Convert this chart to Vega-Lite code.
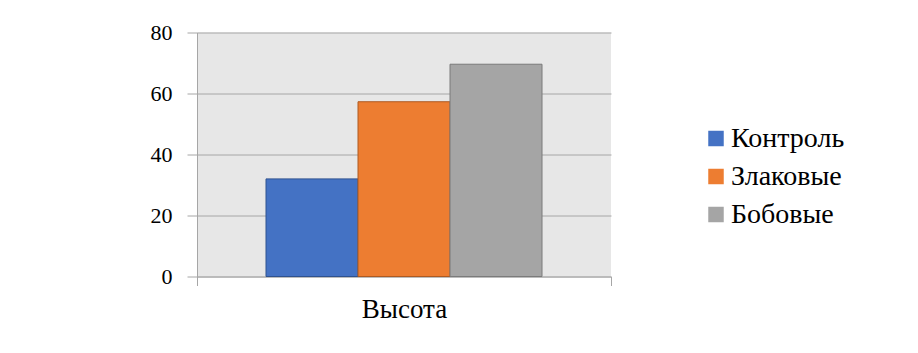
{
  "$schema": "https://vega.github.io/schema/vega-lite/v6.json",
  "width": 414,
  "height": 244,
  "autosize": {"type": "none"},
  "padding": {"left": 197, "top": 32.5, "right": 307, "bottom": 76.5},
  "background": "white",
  "data": {
    "values": [
      {"category": "Высота", "series": "Контроль", "value": 32},
      {"category": "Высота", "series": "Злаковые", "value": 57.3},
      {"category": "Высота", "series": "Бобовые", "value": 69.6}
    ]
  },
  "mark": {"type": "bar", "strokeWidth": 1},
  "encoding": {
    "x": {
      "field": "category",
      "type": "nominal",
      "scale": {"paddingInner": 0, "paddingOuter": 0},
      "axis": {
        "title": null,
        "labelAngle": 0,
        "tickBand": "extent",
        "tickSize": 9,
        "labelPadding": 11,
        "labelFont": "Liberation Serif",
        "labelFontSize": 27,
        "labelColor": "#000000",
        "domainColor": "#a6a6a6",
        "tickColor": "#a6a6a6"
      }
    },
    "xOffset": {
      "field": "series",
      "type": "nominal",
      "sort": ["Контроль", "Злаковые", "Бобовые"],
      "scale": {"paddingInner": 0, "paddingOuter": 0.75}
    },
    "y": {
      "field": "value",
      "type": "quantitative",
      "scale": {"domain": [0, 80]},
      "axis": {
        "title": null,
        "values": [0, 20, 40, 60, 80],
        "tickSize": 10,
        "labelPadding": 15,
        "labelFont": "Liberation Serif",
        "labelFontSize": 22,
        "labelColor": "#000000",
        "domainColor": "#a6a6a6",
        "tickColor": "#a6a6a6",
        "gridColor": "#a6a6a6",
        "gridOpacity": 1
      }
    },
    "color": {
      "field": "series",
      "type": "nominal",
      "sort": ["Контроль", "Злаковые", "Бобовые"],
      "scale": {"range": ["#4472C4", "#ED7D31", "#A5A5A5"]},
      "legend": {
        "title": null,
        "orient": "none",
        "legendX": 505,
        "legendY": 92,
        "symbolType": "square",
        "symbolSize": 240,
        "symbolStrokeWidth": 1,
        "labelFont": "Liberation Serif",
        "labelFontSize": 28,
        "labelColor": "#000000",
        "labelOffset": 1,
        "rowPadding": 10
      }
    },
    "stroke": {
      "field": "series",
      "type": "nominal",
      "sort": ["Контроль", "Злаковые", "Бобовые"],
      "scale": {"range": ["#2F528F", "#AE5A21", "#7B7B7B"]},
      "legend": null
    }
  },
  "config": {
    "view": {"fill": "#e7e7e7", "stroke": null},
    "font": "Liberation Serif"
  }
}
